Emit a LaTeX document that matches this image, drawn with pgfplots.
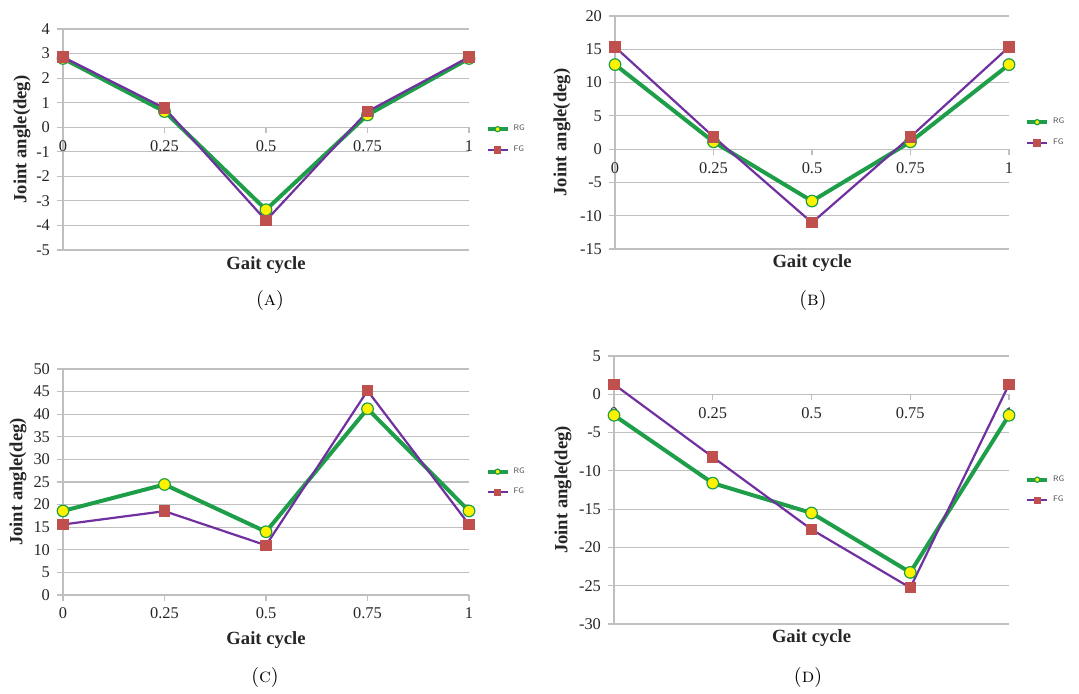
\documentclass[border=0pt]{standalone}
\usepackage{fontspec}
\newfontfamily\timesfont{Liberation Serif}
\usepackage{pgfplots}
\pgfplotsset{compat=1.18}
\definecolor{rggreen}{HTML}{1E9E48}
\definecolor{fgpurple}{HTML}{7030A0}
\definecolor{fgred}{HTML}{C0504D}
\definecolor{gridgray}{HTML}{BFBFBF}
\pgfplotsset{
 gaitaxis/.style={
  scale only axis, clip=false,
  xmin=0, xmax=1, xtick={0,0.25,0.5,0.75,1},
  axis x line=middle, axis y line=left,
  axis line style={-,gridgray,line width=0.6pt},
  hide obscured x ticks=false, hide obscured y ticks=false,
  ymajorgrids, grid style={gridgray,line width=0.6pt},
  tick style={gridgray,line width=0.6pt}, tick align=outside, major tick length=3pt,
  ticklabel style={font=\timesfont\fontsize{8.2}{9}\selectfont, text=black!85},
  /pgf/number format/assume math mode=true,
  label style={font=\timesfont\bfseries\fontsize{9.3}{10}\selectfont, text=black!85},
  ylabel={Joint angle(deg)},
  xlabel={Gait cycle},
  legend style={draw=none, fill=none, at={(1.04,0.5)}, anchor=west,
    font=\sffamily\fontsize{4}{5}\selectfont, text=black!70, row sep=2pt, inner sep=0pt},
  legend image code/.code={\draw[mark repeat=2,mark phase=2] plot coordinates {(0pt,0pt)(5pt,0pt)(10pt,0pt)};},
  every legend image post/.style={mark size=1.3pt},
  legend cell align=left,
 },
 rg/.style={rggreen, line width=2pt, mark=*, mark size=2.9pt, mark options={fill=yellow, draw=rggreen, line width=0.6pt}},
 fg/.style={fgpurple, line width=1.1pt, mark=square*, mark size=2.3pt, mark options={fill=fgred, draw=fgred}},
}
\begin{document}
\begin{tikzpicture}
\useasboundingbox (0,0) rectangle (539.5pt,346.5pt);
% (A)
\begin{axis}[gaitaxis, at={(31.5pt,221.5pt)}, anchor=south west,
  width=203pt, height=110.5pt, ymin=-5, ymax=4, ytick={-5,-4,...,4},
  ylabel style={at={(axis description cs:-0.101,0.5)}, anchor=center},
  xlabel style={at={(axis description cs:0.5,-0.068)}, anchor=center}]
\addplot[rg] coordinates {(0,2.8) (0.25,0.64) (0.5,-3.36) (0.75,0.5) (1,2.8)};
\addplot[fg] coordinates {(0,2.86) (0.25,0.78) (0.5,-3.8) (0.75,0.64) (1,2.86)};
\legend{RG,FG}
\end{axis}
% (B)
\begin{axis}[gaitaxis, at={(307.5pt,222pt)}, anchor=south west,
  width=197pt, height=116.5pt, ymin=-15, ymax=20, ytick={-15,-10,...,20},
  ylabel style={at={(axis description cs:-0.1345,0.5)}, anchor=center},
  xlabel style={at={(axis description cs:0.5,-0.06)}, anchor=center}]
\addplot[rg] coordinates {(0,12.7) (0.25,1.1) (0.5,-7.8) (0.75,1.1) (1,12.7)};
\addplot[fg] coordinates {(0,15.35) (0.25,1.85) (0.5,-11.05) (0.75,1.85) (1,15.35)};
\legend{RG,FG}
\end{axis}
% (C)
\begin{axis}[gaitaxis, at={(31.5pt,49pt)}, anchor=south west,
  width=203pt, height=113pt, ymin=0, ymax=50, ytick={0,5,...,50},
  ylabel style={at={(axis description cs:-0.111,0.5)}, anchor=center},
  xlabel style={at={(axis description cs:0.5,-0.199)}, anchor=center}]
\addplot[rg] coordinates {(0,18.6) (0.25,24.45) (0.5,14.0) (0.75,41.2) (1,18.6)};
\addplot[fg] coordinates {(0,15.6) (0.25,18.55) (0.5,11.0) (0.75,45.2) (1,15.6)};
\legend{RG,FG}
\end{axis}
% (D)
\begin{axis}[gaitaxis, at={(307pt,34.5pt)}, anchor=south west,
  width=197.5pt, height=134pt, ymin=-30, ymax=5, ytick={-30,-25,...,5},
  ylabel style={at={(axis description cs:-0.129,0.5)}, anchor=center},
  xlabel style={at={(axis description cs:0.5,-0.052)}, anchor=center}]
\addplot[rg] coordinates {(0,-2.74) (0.25,-11.6) (0.5,-15.5) (0.75,-23.26) (1,-2.74)};
\addplot[fg] coordinates {(0,1.3) (0.25,-8.2) (0.5,-17.65) (0.75,-25.26) (1,1.3)};
\legend{RG,FG}
\end{axis}
\node[font=\fontsize{10}{12}\selectfont] at (135pt,196.5pt) {(\textsc{a})};
\node[font=\fontsize{10}{12}\selectfont] at (406.5pt,196.5pt) {(\textsc{b})};
\node[font=\fontsize{10}{12}\selectfont] at (132.5pt,8pt) {(\textsc{c})};
\node[font=\fontsize{10}{12}\selectfont] at (404pt,8pt) {(\textsc{d})};
\end{tikzpicture}
\end{document}
